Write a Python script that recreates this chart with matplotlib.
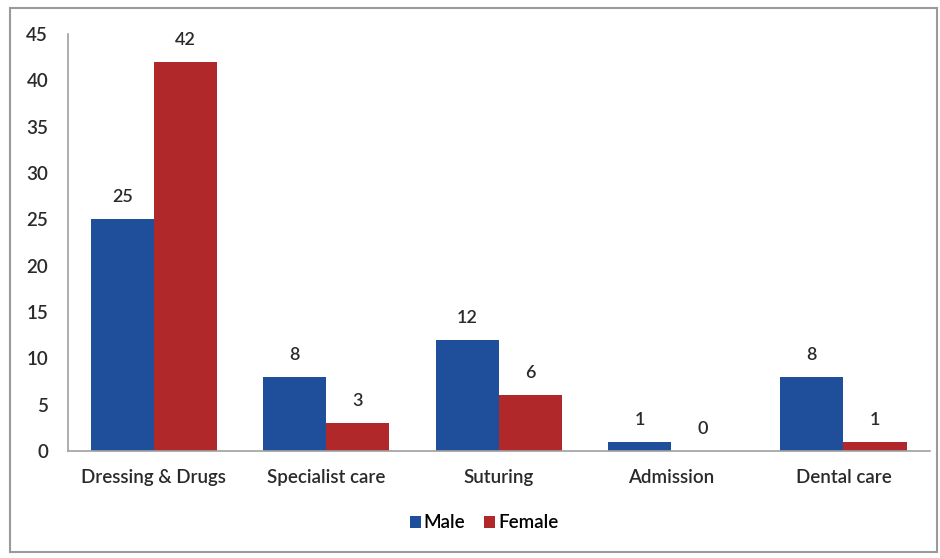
import numpy as np
import matplotlib.pyplot as plt
from matplotlib.patches import Rectangle

categories = ['Dressing & Drugs', 'Specialist care', 'Suturing', 'Admission', 'Dental care']
male = [25, 8, 12, 1, 8]
female = [42, 3, 6, 0, 1]
yticks = np.arange(0, 50, 5)

plt.rcParams['font.family'] = ['Lato', 'DejaVu Sans']
plt.rcParams['font.weight'] = 'semibold'

fig = plt.figure(figsize=(9.4, 5.58), dpi=100)
ax = fig.add_axes([0.072, 0.192, 0.917, 0.747])

x = np.arange(len(categories))
w = 0.366
b1 = ax.bar(x - w/2, male, w, color='#1F4E9A', label='Male')
b2 = ax.bar(x + w/2, female, w, color='#B0282A', label='Female')

for bars in (b1, b2):
    for b in bars:
        ax.text(b.get_x() + b.get_width()/2, b.get_height() + 1.5, str(int(b.get_height())),
                ha='center', va='bottom', fontsize=13, color='#2a2a2a')

ax.set_xlim(-0.5, len(categories) - 0.5)
ax.set_ylim(0, 45)
ax.set_yticks(yticks)
ax.set_xticks(x)
ax.set_xticklabels(categories)
ax.tick_params(axis='both', length=0, labelsize=13.5, colors='#2a2a2a')
ax.tick_params(axis='x', pad=13)
ax.tick_params(axis='y', pad=14)
for s in ['top', 'right']:
    ax.spines[s].set_visible(False)
for s in ['left', 'bottom']:
    ax.spines[s].set_color('#A0A0A0')
    ax.spines[s].set_linewidth(1.2)

fig.legend(handles=[b1, b2], loc='center', bbox_to_anchor=(0.515, 0.063), ncol=2,
           frameon=False, fontsize=13.5, handlelength=0.6, handleheight=0.6,
           handletextpad=0.15, columnspacing=1.0)

fig.patches.append(Rectangle((0.011, 0.01), 0.986, 0.975, transform=fig.transFigure,
                             fill=False, edgecolor='#9A9A9A', linewidth=1.5))

fig.savefig('out.png', dpi=100)
